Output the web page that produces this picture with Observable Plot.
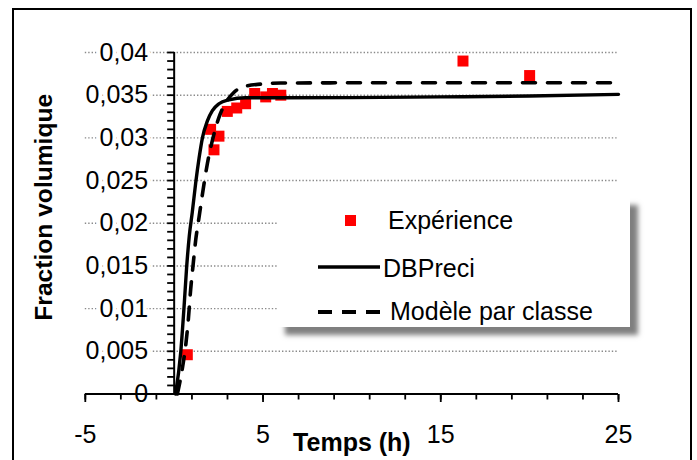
<!DOCTYPE html>
<html>
<head>
<meta charset="utf-8">
<script src="https://cdn.jsdelivr.net/npm/d3@7"></script>
<script src="https://cdn.jsdelivr.net/npm/@observablehq/plot@0.6"></script>
<style>
  body { margin: 0; background: #fff; font-family: "Liberation Sans", Arial, sans-serif; }
  #wrap { position: relative; width: 697px; height: 460px; overflow: hidden; background: #fff; }
  #wrap svg { position: absolute; left: 0; top: 0; overflow: visible; }
  #border { position: absolute; left: 12px; top: 7.5px; width: 680px; height: 490px; border: 2px solid #000; box-sizing: border-box; pointer-events: none; }
  #legend { position: absolute; left: 277px; top: 197px; width: 353px; height: 130px; background: #fff; box-shadow: 8px 8px 5px rgba(0,0,0,0.5); }
  .lg-text { position: absolute; font-size: 25px; line-height: 25px; color: #000; white-space: nowrap; }
  .lg-sw { position: absolute; }
</style>
</head>
<body>
<div id="wrap"><div id="border"></div></div>
<script>
// ---- Data ----
const seriesNames = ["Expérience", "DBPreci", "Modèle par classe"];

// Experimental points
const timeExp = [0.74, 2.05, 2.24, 2.52, 2.99, 3.52, 4.02, 4.53, 5.15, 5.53, 6.0, 16.25, 20.0];
const fracExp = [0.0046, 0.0310, 0.0286, 0.0302, 0.0331, 0.0335, 0.0340, 0.0352, 0.0348, 0.0352, 0.0350, 0.0390, 0.0373];

// DBPreci (solid line)
const timeDB = [0.08, 0.37, 0.55, 0.70, 0.85, 1.02, 1.21, 1.40, 1.59, 1.87, 2.15, 2.52, 3.08, 4.0, 6.0, 10, 15, 20, 25];
const fracDB = [0, 0.0049, 0.0100, 0.0148, 0.0185, 0.0213, 0.0247, 0.0276, 0.0300, 0.0320, 0.0332, 0.0340, 0.03446, 0.0347, 0.0347, 0.03472, 0.0348, 0.0349, 0.0351];

// Modèle par classe (dashed line)
const timeCl = [0.18, 0.46, 0.65, 0.80, 0.93, 1.06, 1.21, 1.40, 1.59, 1.87, 2.15, 2.52, 2.99, 3.37, 4.12, 4.87, 6, 10, 25];
const fracCl = [0, 0.0030, 0.0057, 0.0088, 0.0123, 0.0150, 0.0180, 0.0207, 0.0234, 0.0270, 0.0297, 0.0324, 0.0344, 0.03535, 0.0361, 0.0363, 0.03642, 0.03645, 0.03645];

// Axes / ticks
const yTickValues = [0, 0.005, 0.01, 0.015, 0.02, 0.025, 0.03, 0.035, 0.04];
const yTickLabels = ["0", "0,005", "0,01", "0,015", "0,02", "0,025", "0,03", "0,035", "0,04"];
const yMinorTicks = d3.range(0, 41).map(i => i / 1000);
const xTickValues = [-5, 5, 15, 25];
const xTickLabels = ["-5", "5", "15", "25"];
const xMinorTicks = d3.range(-5, 26, 2);
const xTitle = "Temps (h)";
const yTitle = "Fraction volumique";

// ---- Build tables ----
const exp = timeExp.map((t, i) => ({t, f: fracExp[i]}));
const db = timeDB.map((t, i) => ({t, f: fracDB[i]}));
const cl = timeCl.map((t, i) => ({t, f: fracCl[i]}));
const yTicks = yTickValues.map((v, i) => ({v, label: yTickLabels[i]}));
const xTicks = xTickValues.map((v, i) => ({v, label: xTickLabels[i]}));
const gridVals = yTickValues.filter(v => v > 0);

// tick-shaped symbols (pixel-length strokes drawn from the anchor point)
const tickLeft = {draw(ctx) { ctx.moveTo(0, 0); ctx.lineTo(-7, 0); }};
const tickDownMinor = {draw(ctx) { ctx.moveTo(0, 0); ctx.lineTo(0, 5.5); }};
const tickDownMajor = {draw(ctx) { ctx.moveTo(0, 0); ctx.lineTo(0, 8); }};

const font = "Liberation Sans, Arial, sans-serif";

const chart = Plot.plot({
  width: 697,
  height: 460,
  marginLeft: 84.8,
  marginRight: 79,
  marginTop: 52,
  marginBottom: 66.5,
  style: {fontFamily: font, background: "transparent", overflow: "visible"},
  x: {domain: [-5, 25], axis: null},
  y: {domain: [0, 0.04], axis: null},
  marks: [
    // dotted gridlines
    Plot.ruleY(gridVals, {stroke: "#8a8a8a", strokeWidth: 1.4, strokeDasharray: "1.4,2"}),
    // white halo behind y labels
    Plot.text(yTicks, {x: 0, y: "v", text: "label", textAnchor: "end", dx: -26, fontSize: 25,
      fill: "white", stroke: "white", strokeWidth: 8}),
    Plot.text(yTicks, {x: 0, y: "v", text: "label", textAnchor: "end", dx: -26, fontSize: 25, fill: "black"}),
    // y ticks (outside, pointing left)
    Plot.dot(yMinorTicks, {x: 0, y: d => d, symbol: tickLeft, fill: "none", stroke: "black", strokeWidth: 1.8}),
    // x ticks
    Plot.dot(xMinorTicks, {x: d => d, y: 0, symbol: tickDownMinor, fill: "none", stroke: "black", strokeWidth: 1.8}),
    Plot.dot(xTickValues, {x: d => d, y: 0, symbol: tickDownMajor, fill: "none", stroke: "black", strokeWidth: 1.8}),
    Plot.text(xTicks, {x: "v", y: 0, text: "label", dy: 41, fontSize: 25, fill: "black", lineAnchor: "middle"}),
    // experimental points
    Plot.dot(exp, {x: "t", y: "f", symbol: "square", r: 6.2, fill: "#ff0000", stroke: "none"}),
    // model lines
    Plot.line(db, {x: "t", y: "f", curve: "monotone-x", stroke: "black", strokeWidth: 3.4}),
    Plot.line(cl, {x: "t", y: "f", curve: "monotone-x", stroke: "black", strokeWidth: 3.6, strokeDasharray: "13,12"}),
    // axis lines
    Plot.ruleY([0], {stroke: "black", strokeWidth: 2}),
    Plot.ruleX([0], {stroke: "black", strokeWidth: 2}),
    // axis titles
    Plot.text([xTitle], {frameAnchor: "bottom", dy: 49, fontSize: 25, fontWeight: "bold", fill: "black", lineAnchor: "middle", textAnchor: "middle"}),
    Plot.text([yTitle], {frameAnchor: "left", dx: -41, dy: -16, rotate: -90, fontSize: 24.6, fontWeight: "bold", fill: "black", lineAnchor: "middle", textAnchor: "middle"})
  ]
});

const wrap = document.getElementById("wrap");
wrap.insertBefore(chart, wrap.firstChild);

// ---- Legend (HTML overlay) ----
const legend = document.createElement("div");
legend.id = "legend";
wrap.appendChild(legend);
const L = 277, T = 197;
function addText(str, left, top) {
  const d = document.createElement("div");
  d.className = "lg-text";
  d.textContent = str;
  d.style.left = (left - L) + "px";
  d.style.top = (top - T) + "px";
  legend.appendChild(d);
}
function addSwatch(svgInner, left, top, w, h) {
  const s = document.createElementNS("http://www.w3.org/2000/svg", "svg");
  s.setAttribute("class", "lg-sw");
  s.setAttribute("width", w);
  s.setAttribute("height", h);
  s.style.left = (left - L) + "px";
  s.style.top = (top - T) + "px";
  s.innerHTML = svgInner;
  legend.appendChild(s);
}
addSwatch('<rect x="0" y="0" width="11" height="11" fill="#ff0000"/>', 345, 215, 11, 11);
addText(seriesNames[0], 388, 208);
addSwatch('<line x1="0" y1="3" x2="62" y2="3" stroke="black" stroke-width="3.6"/>', 318, 264.3, 62, 6);
addText(seriesNames[1], 383, 255.5);
addSwatch('<line x1="0" y1="3" x2="62" y2="3" stroke="black" stroke-width="3.8" stroke-dasharray="14,10"/>', 318, 309.3, 62, 6);
addText(seriesNames[2], 390, 299);
</script>
</body>
</html>
